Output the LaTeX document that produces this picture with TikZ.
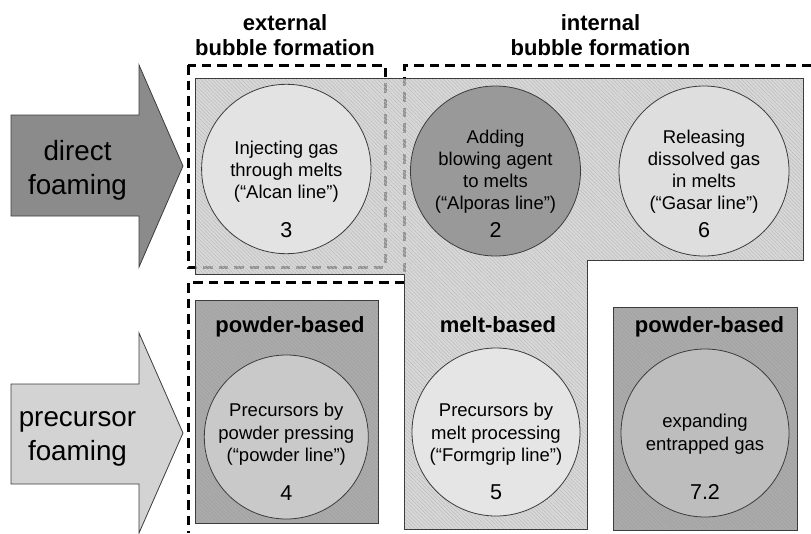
\documentclass[tikz,border=0pt]{standalone}
\usepackage{fontspec}
\setmainfont{Liberation Sans}
\usetikzlibrary{patterns.meta}
\definecolor{arrowdark}{HTML}{8B8B8B}
\definecolor{arrowlight}{HTML}{D3D3D3}
\definecolor{regionfill}{HTML}{C9C9C9}
\definecolor{regionhatch}{HTML}{BCBCBC}
\definecolor{boxfill}{HTML}{ABABAB}
\definecolor{boxhatch}{HTML}{A0A0A0}
\definecolor{edgecol}{HTML}{3C3C3C}
\definecolor{cthree}{HTML}{E3E3E3}
\definecolor{ctwo}{HTML}{999999}
\definecolor{csix}{HTML}{DEDEDE}
\definecolor{cfour}{HTML}{C9C9C9}
\definecolor{cfive}{HTML}{E5E5E5}
\definecolor{cseven}{HTML}{BDBDBD}
\tikzset{
  outline/.style={draw=edgecol, line width=0.8pt},
  dashbox/.style={draw=black, line width=3pt, dash pattern=on 9.5pt off 6pt},
  procircle/.style={circle, outline, inner sep=0pt, minimum size=#1},
  circtext/.style={inner sep=0pt, align=center, font=\fontsize{18.5}{22.2}\selectfont},
  numtext/.style={inner sep=0pt, font=\fontsize{21.5}{24.5}\selectfont},
  headtext/.style={inner sep=0pt, align=center, font=\fontsize{22}{25}\selectfont\bfseries},
  arrowtext/.style={inner sep=0pt, align=center, font=\fontsize{27.8}{34}\selectfont},
  hatch/.style={pattern={Lines[angle=-45,distance=2.6pt,line width=0.5pt]}, pattern color=#1},
}
\begin{document}
\begin{tikzpicture}[x=1pt, y=-1pt]
\useasboundingbox (0,0) rectangle (811,533);
% arrows
\draw[outline, fill=arrowdark] (11,115) -- (139,115) -- (139,65) -- (183,166) -- (139,267) -- (139,216) -- (11,216) -- cycle;
\draw[outline, fill=arrowlight] (11,384) -- (139,384) -- (139,333) -- (183,433) -- (139,533) -- (139,484) -- (11,484) -- cycle;
\node[arrowtext] (direct) at (77.5,171) {\strut direct\\\strut foaming};
\node[arrowtext] (precursor) at (77.5,436.7) {\strut precursor\\\strut foaming};
% dashed groupings
\draw[dashbox] (188,65) rectangle (385,267);
\draw[dashbox] (811,65) -- (404,65) -- (404,276);
\draw[dashbox] (404,282) -- (188,282) -- (188,533);
% L-shaped melt region
\begin{scope}[fill opacity=0.72]
\fill[regionfill] (195,78) -- (803,78) -- (803,260) -- (587,260) -- (587,529) -- (404,529) -- (404,274) -- (195,274) -- cycle;
\fill[hatch=regionhatch] (195,78) -- (803,78) -- (803,260) -- (587,260) -- (587,529) -- (404,529) -- (404,274) -- (195,274) -- cycle;
\end{scope}
\draw[outline] (195,78) -- (803,78) -- (803,260) -- (587,260) -- (587,529) -- (404,529) -- (404,274) -- (195,274) -- cycle;
% powder boxes
\fill[boxfill] (195,300) rectangle (378,523);
\fill[hatch=boxhatch] (195,300) rectangle (378,523);
\draw[outline] (195,300) rectangle (378,523);
\fill[boxfill] (613,307) rectangle (797,530);
\fill[hatch=boxhatch] (613,307) rectangle (797,530);
\draw[outline] (613,307) rectangle (797,530);
% headers
\node[headtext] (exthead) at (285,37.5) {\strut external\\\strut bubble formation};
\node[headtext] (inthead) at (600.5,37.5) {\strut internal\\\strut bubble formation};
\node[headtext] (pb1) at (290,327) {\strut powder-based};
\node[headtext] (mb) at (498,327) {\strut melt-based};
\node[headtext] (pb2) at (709.5,327) {\strut powder-based};
% circles
\node[procircle=169.4pt, fill=cthree] (c3) at (286.3,169) {};
\node[procircle=170pt, fill=ctwo] (c2) at (495.5,171) {};
\node[procircle=170pt, fill=csix] (c6) at (704,171) {};
\node[procircle=164pt, fill=cfour] (c4) at (286.3,437) {};
\node[procircle=168pt, fill=cfive] (c5) at (496,432) {};
\node[procircle=168pt, fill=cseven] (c72) at (705,433) {};
% circle texts
\node[circtext] (t3) at (286.3,172) {\strut Injecting gas\\through melts\\\strut (“Alcan line”)};
\node[numtext] (n3) at (286.3,233) {\strut 3};
\node[circtext] (t2) at (495.5,172) {\strut Adding\\blowing agent\\to melts\\\strut (“Alporas line”)};
\node[numtext] (n2) at (495.5,233) {\strut 2};
\node[circtext] (t6) at (704,172) {\strut Releasing\\dissolved gas\\in melts\\\strut (“Gasar line”)};
\node[numtext] (n6) at (704,233) {\strut 6};
\node[circtext] (t4) at (286.3,434.6) {\strut Precursors by\\powder pressing\\\strut (“powder line”)};
\node[numtext] (n4) at (286.3,496) {\strut 4};
\node[circtext] (t5) at (496,434.6) {\strut Precursors by\\melt processing\\\strut (“Formgrip line”)};
\node[numtext] (n5) at (496,495) {\strut 5};
\node[circtext] (t72) at (705,434.6) {\strut expanding\\\strut entrapped gas};
\node[numtext] (n72) at (705,495) {\strut 7.2};
\end{tikzpicture}
\end{document}
